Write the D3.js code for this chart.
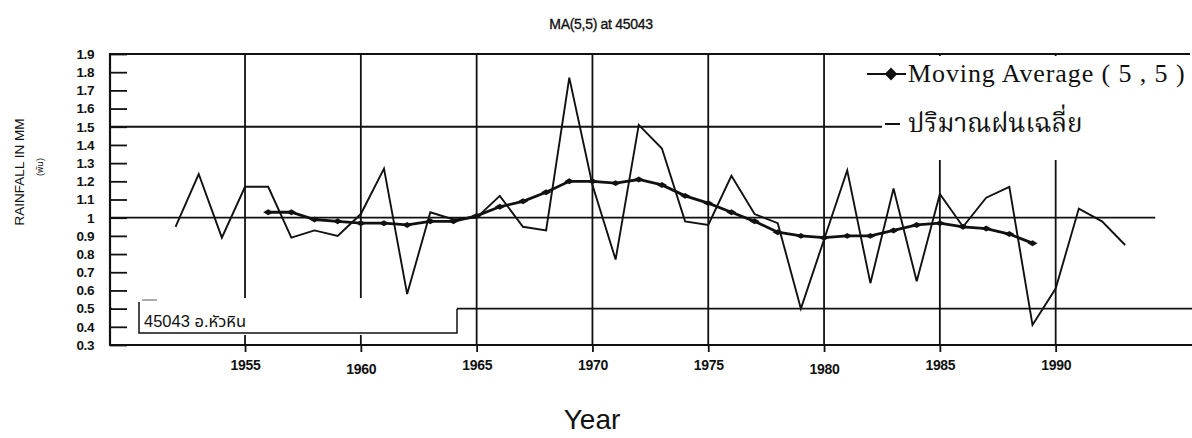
<!DOCTYPE html>
<html>
<head>
<meta charset="utf-8">
<script src="https://cdn.jsdelivr.net/npm/d3@7"></script>
<style>
  html, body { margin: 0; padding: 0; background: #fff; }
  svg { display: block; }
  text { fill: #111; }
</style>
</head>
<body>
<svg id="chart" width="1192" height="438"></svg>
<script>
// Annual rainfall index, station 45043 (Hua Hin), with its MA(5,5) smoothing
const years = [1952, 1953, 1954, 1955, 1956, 1957, 1958, 1959, 1960, 1961,
               1962, 1963, 1964, 1965, 1966, 1967, 1968, 1969, 1970, 1971,
               1972, 1973, 1974, 1975, 1976, 1977, 1978, 1979, 1980, 1981,
               1982, 1983, 1984, 1985, 1986, 1987, 1988, 1989, 1990, 1991,
               1992, 1993];
const rainfall = [0.95, 1.24, 0.89, 1.17, 1.17, 0.89, 0.93, 0.90, 1.02, 1.27,
                  0.58, 1.03, 0.99, 1.00, 1.12, 0.95, 0.93, 1.77, 1.18, 0.77,
                  1.51, 1.38, 0.98, 0.96, 1.23, 1.02, 0.97, 0.50, 0.88, 1.26,
                  0.64, 1.16, 0.65, 1.13, 0.95, 1.11, 1.17, 0.41, 0.61, 1.05,
                  0.98, 0.85];

const maYears = [1956, 1957, 1958, 1959, 1960, 1961, 1962, 1963, 1964, 1965,
                 1966, 1967, 1968, 1969, 1970, 1971, 1972, 1973, 1974, 1975,
                 1976, 1977, 1978, 1979, 1980, 1981, 1982, 1983, 1984, 1985,
                 1986, 1987, 1988, 1989];
const maValues = [1.03, 1.03, 0.99, 0.98, 0.97, 0.97, 0.96, 0.98, 0.98, 1.01,
                  1.06, 1.09, 1.14, 1.20, 1.20, 1.19, 1.21, 1.18, 1.12, 1.08,
                  1.03, 0.98, 0.92, 0.90, 0.89, 0.90, 0.90, 0.93, 0.96, 0.97,
                  0.95, 0.94, 0.91, 0.86];

const yTickValues = [0.3, 0.4, 0.5, 0.6, 0.7, 0.8, 0.9, 1.0, 1.1, 1.2,
                     1.3, 1.4, 1.5, 1.6, 1.7, 1.8, 1.9];
const xTickYears = [1955, 1960, 1965, 1970, 1975, 1980, 1985, 1990];

const chartTitle = "MA(5,5) at 45043";
const xTitle = "Year";
const yTitle = "RAINFALL IN MM";
const yUnit = "(พัน)";
const stationLabel = "45043 อ.หัวหิน";
const legendMA = "Moving Average ( 5 , 5 )";
const legendMean = "ปริมาณฝนเฉลี่ย";

const svg = d3.select("#chart");
const plotLeft = 110, plotRight = 1190, plotTop = 54, plotBottom = 345;

const x = d3.scaleLinear().domain([1949.17, 1995.8]).range([plotLeft, plotRight]);
const y = d3.scaleLinear().domain([0.3, 1.9]).range([plotBottom, plotTop]);

const ink = "#111";
const gridW = 1.8;

// Title
svg.append("text")
  .attr("x", 601).attr("y", 29)
  .attr("text-anchor", "middle")
  .style("font", "14px 'Liberation Sans', Arial, sans-serif")
  .style("letter-spacing", "-0.3px")
  .attr("stroke", ink).attr("stroke-width", 0.35)
  .text(chartTitle);

// Vertical grid every 5 years
svg.append("g").selectAll("line")
  .data(xTickYears).join("line")
  .attr("x1", d => x(d)).attr("x2", d => x(d))
  .attr("y1", y(1.9)).attr("y2", y(0.3))
  .attr("stroke", ink).attr("stroke-width", gridW);

// Horizontal grid at 0.5, 1.0 and 1.5
svg.append("line")
  .attr("x1", plotLeft).attr("x2", 882)
  .attr("y1", y(1.5)).attr("y2", y(1.5))
  .attr("stroke", ink).attr("stroke-width", gridW);
svg.append("line")
  .attr("x1", plotLeft).attr("x2", x(1994.3))
  .attr("y1", y(1.0)).attr("y2", y(1.0))
  .attr("stroke", ink).attr("stroke-width", gridW);
svg.append("line")
  .attr("x1", plotLeft).attr("x2", 1192)
  .attr("y1", y(0.5)).attr("y2", y(0.5))
  .attr("stroke", ink).attr("stroke-width", gridW);

// Station label box
const boxL = 139, boxR = 457, boxT = 300, boxB = 333;
svg.append("rect")
  .attr("x", plotLeft + 2).attr("y", boxT - 2)
  .attr("width", boxR - plotLeft - 2).attr("height", boxB - boxT + 4)
  .attr("fill", "#fff");
svg.append("path")
  .attr("d", `M${boxL},${boxT + 2}V${boxB}H${boxR}V${y(0.5)}`)
  .attr("fill", "none").attr("stroke", ink).attr("stroke-width", 1.5);
svg.append("line")
  .attr("x1", boxL + 3).attr("x2", boxL + 18)
  .attr("y1", boxT).attr("y2", boxT)
  .attr("stroke", "#555").attr("stroke-width", 1);
svg.append("text")
  .attr("x", boxL + 5).attr("y", boxB - 6)
  .style("font", "16.5px 'Liberation Sans', Arial, 'Noto Sans Thai', sans-serif")
  .text(stationLabel);

// Raw annual series
const line = d3.line().x(d => x(d[0])).y(d => y(d[1]));
svg.append("path")
  .datum(years.map((yr, i) => [yr, rainfall[i]]))
  .attr("d", line)
  .attr("fill", "none").attr("stroke", ink)
  .attr("stroke-width", 1.9).attr("stroke-linejoin", "miter");

// Moving average with diamond markers
const maPts = maYears.map((yr, i) => [yr, maValues[i]]);
svg.append("path")
  .datum(maPts)
  .attr("d", line)
  .attr("fill", "none").attr("stroke", ink).attr("stroke-width", 2.8);
const diamond = d3.symbol().type(d3.symbolDiamond).size(34);
svg.append("g").selectAll("path")
  .data(maPts).join("path")
  .attr("transform", d => `translate(${x(d[0])},${y(d[1])}) scale(1.6,0.55)`)
  .attr("d", diamond).attr("fill", ink);

// Legend (white panel over the grid)
svg.append("rect")
  .attr("x", 884).attr("y", plotTop + 2)
  .attr("width", 1192 - 884).attr("height", 160 - plotTop - 2)
  .attr("fill", "#fff");
svg.append("line")
  .attr("x1", 867).attr("x2", 906).attr("y1", 74).attr("y2", 74)
  .attr("stroke", ink).attr("stroke-width", 2);
svg.append("path")
  .attr("transform", "translate(891,74) scale(1.4,0.85)")
  .attr("d", d3.symbol().type(d3.symbolDiamond).size(70))
  .attr("fill", ink);
svg.append("text")
  .attr("x", 908).attr("y", 82)
  .style("font", "26px 'Liberation Serif', 'Times New Roman', serif")
  .style("letter-spacing", "0.9px")
  .text(legendMA);
svg.append("line")
  .attr("x1", 885).attr("x2", 900).attr("y1", 124).attr("y2", 124)
  .attr("stroke", ink).attr("stroke-width", 2);
svg.append("text")
  .attr("x", 908).attr("y", 132)
  .style("font", "26px 'Norasi', 'Noto Serif Thai', 'Noto Sans Thai', serif")
  .text(legendMean);

// Y axis: inward ticks every 0.1
const yAxis = d3.axisLeft(y)
  .tickValues(yTickValues)
  .tickSize(-17)
  .tickPadding(16)
  .tickFormat(d => String(+d.toFixed(1)));
const gy = svg.append("g").attr("transform", `translate(${plotLeft},0)`).call(yAxis);
gy.select(".domain").remove();
gy.selectAll(".tick line").attr("stroke", ink).attr("stroke-width", gridW);
gy.selectAll(".tick text")
  .attr("fill", ink)
  .style("font", "bold 13.5px 'Liberation Sans', Arial, sans-serif")
  .style("letter-spacing", "-0.4px");

// Frame: left, top and bottom edges
svg.append("path")
  .attr("d", `M${plotRight},${plotTop}H${plotLeft}V${plotBottom}H1192`)
  .attr("fill", "none").attr("stroke", ink).attr("stroke-width", 2.2);

// X axis: outward ticks every 5 years; 1960 and 1980 labels sit a little lower
const xAxis = d3.axisBottom(x)
  .tickValues(xTickYears)
  .tickSize(7)
  .tickPadding(8)
  .tickFormat(d3.format("d"));
const gx = svg.append("g").attr("transform", `translate(0,${plotBottom})`).call(xAxis);
gx.select(".domain").remove();
gx.selectAll(".tick line").attr("stroke", ink).attr("stroke-width", gridW);
gx.selectAll(".tick text")
  .attr("fill", ink)
  .attr("y", d => (d === 1960 || d === 1980) ? 19 : 15)
  .style("font", "bold 14px 'Liberation Sans', Arial, sans-serif")
  .style("letter-spacing", "-0.3px");

// Axis titles
svg.append("text")
  .attr("transform", "translate(24,172) rotate(-90)")
  .attr("text-anchor", "middle")
  .style("font", "13.5px 'Liberation Sans', Arial, sans-serif")
  .text(yTitle);
svg.append("text")
  .attr("transform", "translate(43,167) rotate(-90)")
  .attr("text-anchor", "middle")
  .style("font", "9px 'Liberation Sans', 'Noto Sans Thai', sans-serif")
  .text(yUnit);
svg.append("text")
  .attr("x", 592).attr("y", 429)
  .attr("text-anchor", "middle")
  .style("font", "28px 'Liberation Sans', Arial, sans-serif")
  .text(xTitle);
</script>
</body>
</html>
